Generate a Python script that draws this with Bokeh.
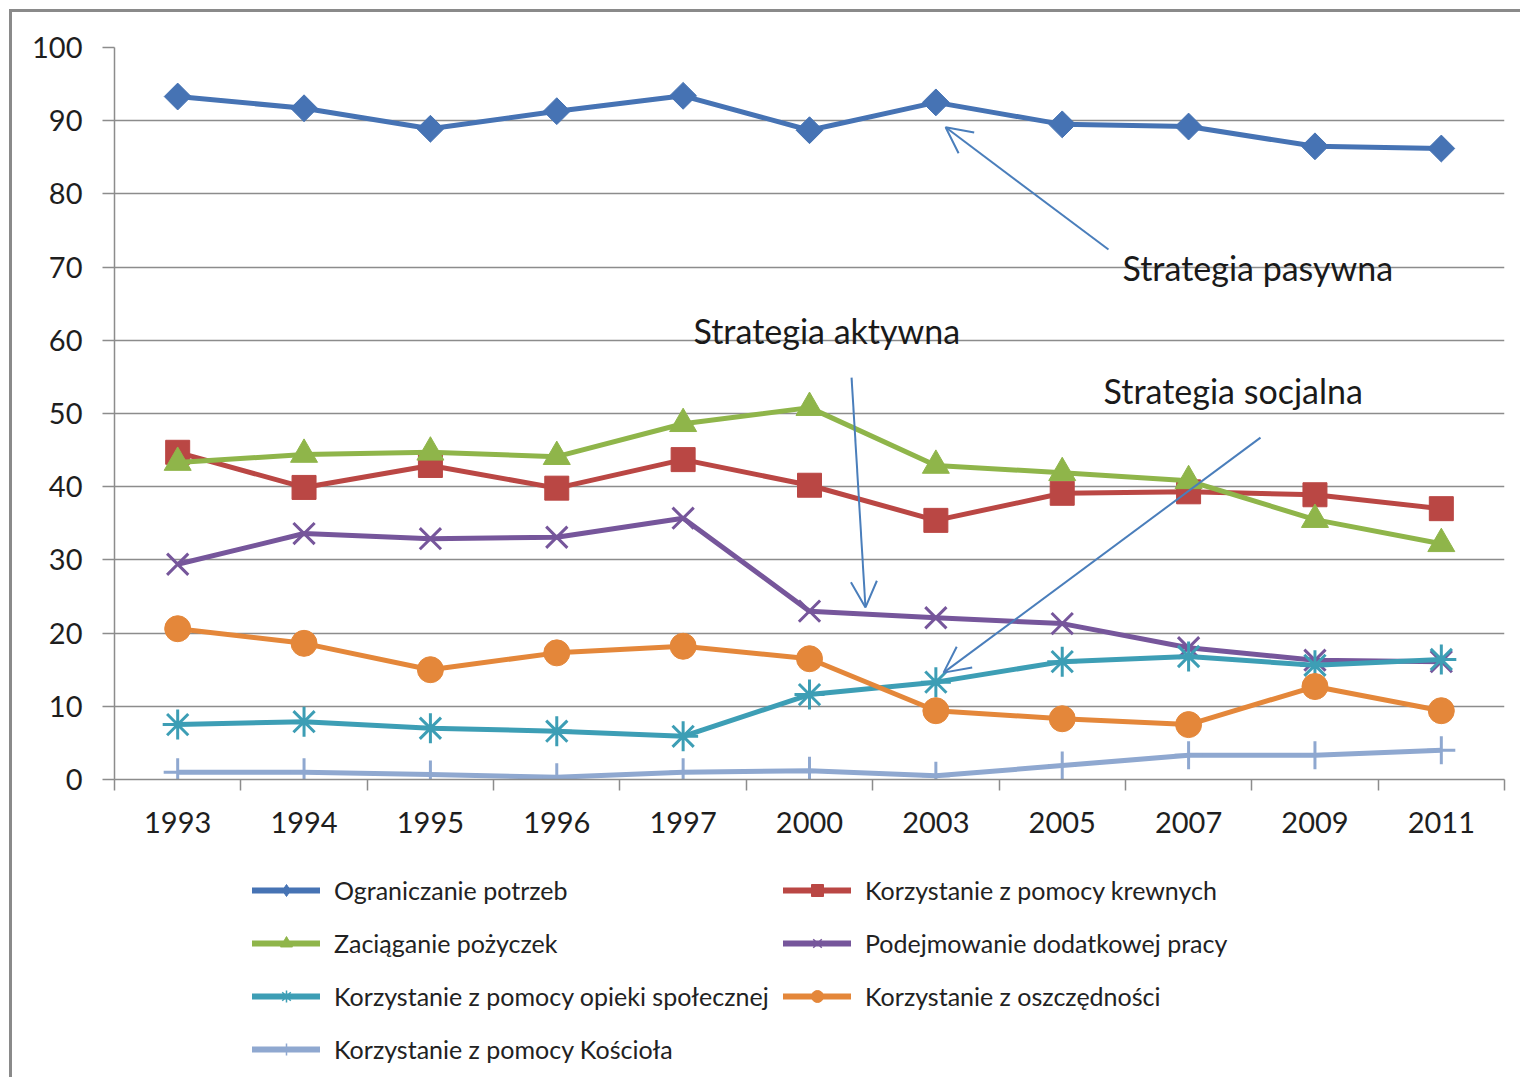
import numpy as np
from bokeh.plotting import figure
from bokeh.layouts import column
from bokeh.models import (Range1d, FixedTicker, Legend, LegendItem, Arrow, OpenHead, ColumnDataSource)
from bokeh.core.properties import value
from bokeh.embed import file_html
from bokeh.resources import INLINE

years = ["1993", "1994", "1995", "1996", "1997", "2000", "2003", "2005", "2007", "2009", "2011"]
ograniczanie = [93.3, 91.7, 88.9, 91.3, 93.4, 88.7, 92.5, 89.5, 89.2, 86.5, 86.2]
krewnych = [44.7, 39.9, 42.9, 39.8, 43.7, 40.2, 35.4, 39.1, 39.3, 38.9, 37.0]
pozyczki = [43.3, 44.4, 44.7, 44.1, 48.6, 50.8, 42.9, 41.9, 40.8, 35.5, 32.2]
praca = [29.4, 33.6, 32.9, 33.1, 35.7, 23.0, 22.1, 21.3, 18.0, 16.3, 16.1]
opieka = [7.5, 7.9, 7.0, 6.6, 5.9, 11.6, 13.3, 16.1, 16.8, 15.6, 16.4]
oszczednosci = [20.6, 18.6, 15.0, 17.3, 18.2, 16.5, 9.4, 8.3, 7.5, 12.7, 9.4]
kosciol = [1.0, 1.0, 0.7, 0.3, 1.0, 1.2, 0.5, 1.9, 3.3, 3.3, 4.0]

labels = ["Ograniczanie potrzeb", "Korzystanie z pomocy krewnych", "Zaciąganie pożyczek",
          "Podejmowanie dodatkowej pracy", "Korzystanie z pomocy opieki społecznej",
          "Korzystanie z oszczędności", "Korzystanie z pomocy Kościoła"]
series = [ograniczanie, krewnych, pozyczki, praca, opieka, oszczednosci, kosciol]
colors = ["#4673B4", "#BA4744", "#8FB54A", "#76569B", "#3D9EB5", "#E4873A", "#8FA8D0"]
markers = ["square", "square", "triangle", "x", "asterisk", "circle", "cross"]
legend_markers = ["diamond", "square", "triangle", "x", "asterisk", "circle", "cross"]
sizes = [19, 24, 27, 30, 30, 26, 28]
angles = [np.pi / 4, 0, 0, 0, 0, 0, 0]

y_ticks = list(range(0, 101, 10))

ann_text = ["Strategia pasywna", "Strategia aktywna", "Strategia socjalna"]
ann_x = [7.477, 4.082, 7.327]
ann_y = [69.9, 61.3, 53.1]

FONT = "Lato"
GRAY = "#8c8c8c"

p = figure(width=1520, height=860, output_backend="svg", toolbar_location=None,
           x_range=Range1d(-0.5, len(years) - 0.5), y_range=Range1d(0, 100),
           min_border_left=114, min_border_top=47, min_border_right=16, min_border_bottom=81)
p.outline_line_color = None
p.background_fill_color = "white"
p.border_fill_color = None

xi = list(range(len(years)))

# axes
p.xaxis.ticker = FixedTicker(ticks=xi, minor_ticks=[i - 0.5 for i in range(len(years) + 1)])
p.xaxis.major_label_overrides = {i: y for i, y in enumerate(years)}
p.xaxis.major_tick_out = 0
p.xaxis.major_tick_in = 0
p.xaxis.minor_tick_out = 11
p.xaxis.minor_tick_in = 0
p.xaxis.minor_tick_line_color = GRAY
p.xaxis.minor_tick_line_width = 1.5
p.xaxis.axis_line_color = GRAY
p.xaxis.axis_line_width = 1.5
p.xaxis.major_label_standoff = 21
p.xaxis.major_label_text_font = FONT
p.xaxis.major_label_text_font_size = "29px"
p.xaxis.major_label_text_color = "#1e1e1e"

p.yaxis.ticker = FixedTicker(ticks=y_ticks)
p.yaxis.major_tick_out = 12
p.yaxis.major_tick_in = 0
p.yaxis.minor_tick_out = 0
p.yaxis.minor_tick_in = 0
p.yaxis.major_tick_line_color = GRAY
p.yaxis.major_tick_line_width = 1.5
p.yaxis.axis_line_color = GRAY
p.yaxis.axis_line_width = 1.5
p.yaxis.major_label_standoff = 20
p.yaxis.major_label_text_font = FONT
p.yaxis.major_label_text_font_size = "29px"
p.yaxis.major_label_text_color = "#1e1e1e"

p.xgrid.grid_line_color = None
p.ygrid.grid_line_color = GRAY
p.ygrid.grid_line_width = 1.5

# legend figure (its ranges keep the proxy glyphs out of view)
lf = figure(width=1520, height=217, output_backend="svg", toolbar_location=None,
            x_range=Range1d(-20, -19), y_range=Range1d(-20, -19), x_axis_type=None, y_axis_type=None,
            min_border=0, min_border_left=0, min_border_right=0, min_border_top=0, min_border_bottom=0)
lf.outline_line_color = None
lf.border_fill_color = None
lf.background_fill_color = None

items = []
for lab, vals, col, mk, lmk, sz, ang in zip(labels, series, colors, markers, legend_markers, sizes, angles):
    src = ColumnDataSource(dict(x=xi, y=vals))
    lw = 3 if mk in ("x", "asterisk", "cross") else 1
    p.line("x", "y", source=src, line_color=col, line_width=5, line_join="round")
    p.scatter("x", "y", source=src, marker=mk, size=sz, angle=ang,
              fill_color=col, line_color=col, line_width=lw)
    lr = lf.line("x", "y", source=src, line_color=col, line_width=6, line_cap="round")
    sr = lf.scatter("x", "y", source=src, marker=lmk, size=sz,
                    fill_color=col, line_color=col, line_width=1.5 if lw == 3 else 1)
    items.append(LegendItem(label=lab, renderers=[lr, sr]))

# annotations
arrows = [((7.366, 72.4), (6.077, 89.1)),
          ((5.333, 54.9), (5.443, 23.5)),
          ((8.569, 46.7), (6.061, 14.6))]
for (xs, ys), (xe, ye) in arrows:
    p.add_layout(Arrow(x_start=xs, y_start=ys, x_end=xe, y_end=ye, line_color="#4A7EBB", line_width=2,
                       end=OpenHead(size=26, line_color="#4A7EBB", line_width=2)))

p.text(x=ann_x, y=ann_y, text=ann_text, text_font=value(FONT), text_font_size="34px",
       text_color="#1a1a1a", text_baseline="alphabetic", text_align="left")

common = dict(glyph_width=68, glyph_height=30, label_height=30, label_standoff=14, spacing=23,
              padding=0, margin=0, border_line_color=None, background_fill_alpha=0,
              label_text_font=FONT, label_text_font_size="25px", label_text_color="#222222")
left_items = [items[0], items[2], items[4], items[6]]
right_items = [items[1], items[3], items[5]]
leg1 = Legend(items=left_items, location=(138, 13), **common)
leg2 = Legend(items=right_items, location=(669, 66), **common)
lf.add_layout(leg1, "center")
lf.add_layout(leg2, "center")

layout = column(p, lf, spacing=0, styles={
    "background-color": "white",
    "background-image": "linear-gradient(#8a8a8a,#8a8a8a), linear-gradient(#8a8a8a,#8a8a8a)",
    "background-size": "3px 100%, 100% 3px",
    "background-position": "9px 9px, 9px 9px",
    "background-repeat": "no-repeat",
})

open("out.html", "w").write(file_html(layout, INLINE))
